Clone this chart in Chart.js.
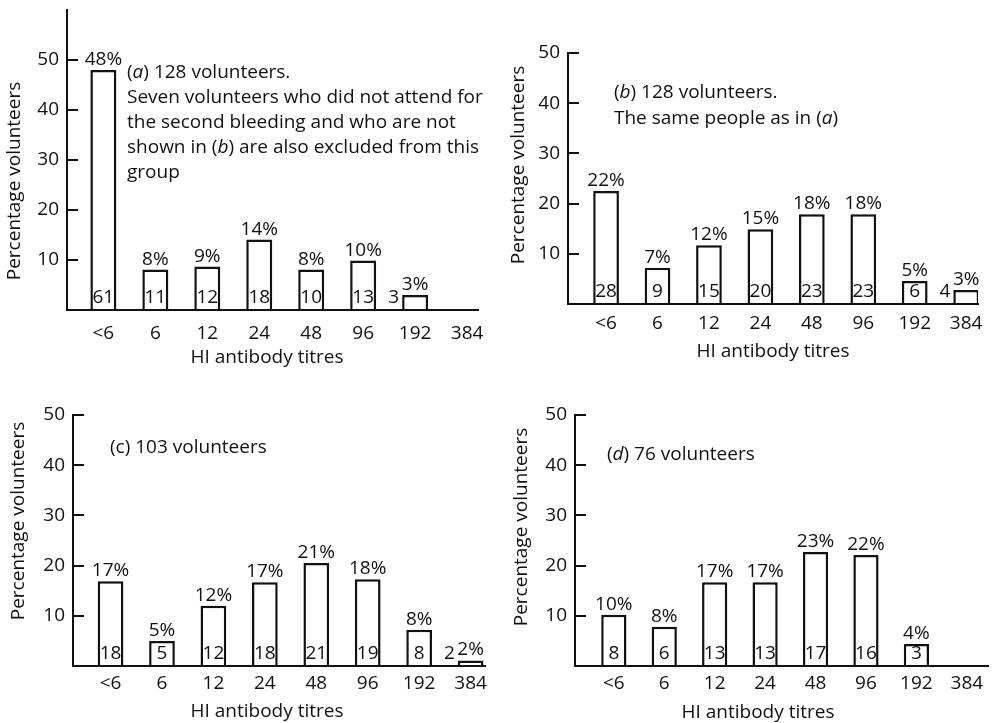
<!DOCTYPE html>
<html>
<head>
<meta charset="utf-8">
<script src="https://cdn.jsdelivr.net/npm/chart.js@4.4.0/dist/chart.umd.min.js"></script>
<style>
  html, body { margin: 0; padding: 0; background: #fff; overflow: hidden; width: 995px; height: 723px; }
  canvas { position: absolute; }
</style>
</head>
<body>
<canvas id="chartA"></canvas>
<canvas id="chartB"></canvas>
<canvas id="chartC"></canvas>
<canvas id="chartD"></canvas>
<script>
const titres = ['<6', '6', '12', '24', '48', '96', '192', '384'];

// bar heights (percentage of volunteers)
const pctA = [48, 8.1, 8.7, 14.1, 8.1, 9.9, 3.0, null];
const pctB = [22.5, 7.2, 11.7, 14.9, 17.9, 17.9, 4.6, 2.8];
const pctC = [16.9, 5.0, 12.0, 16.7, 20.5, 17.3, 7.2, 1.1];
const pctD = [10.2, 7.8, 16.7, 16.7, 22.7, 22.1, 4.4, null];

// percentages printed above the bars
const printedA = [48, 8, 9, 14, 8, 10, 3, null];
const printedB = [22, 7, 12, 15, 18, 18, 5, 3];
const printedC = [17, 5, 12, 17, 21, 18, 8, 2];
const printedD = [10, 8, 17, 17, 23, 22, 4, null];

// number of volunteers printed at the foot of each bar
const countA = [61, 11, 12, 18, 10, 13, 3, null];
const countB = [28, 9, 15, 20, 23, 23, 6, 4];
const countC = [18, 5, 12, 18, 21, 19, 8, 2];
const countD = [8, 6, 13, 13, 17, 16, 3, null];

const notesA = [
  '(*a*) 128 volunteers.',
  'Seven volunteers who did not attend for',
  'the second bleeding and who are not',
  'shown in (*b*) are also excluded from this',
  'group'
];
const notesB = ['(*b*) 128 volunteers.', 'The same people as in (*a*)'];
const notesC = ['(c) 103 volunteers'];
const notesD = ['(*d*) 76 volunteers'];

const ink = '#111';
const family = '"Open Sans", "DejaVu Sans", sans-serif';
const fontSize = 19;
const Y_WIDTH = 75, X_HEIGHT = 57, PAD_RIGHT = 16;

// box = [left, top, width, height] of each canvas on the page
const panels = [
  { id: 'chartA', pct: pctA, printed: printedA, count: countA, notes: notesA,
    box: [-8, 0, 502, 367], padTop: 10, yMax: 60, xMin: -0.70, xMax: 7.21, xPad: 12,
    yTitle: [15, 181], xTitle: [267, 358], noteAt: [127, 73], noteStep: 25 },
  { id: 'chartB', pct: pctB, printed: printedB, count: countB, notes: notesB,
    box: [493, 39, 501, 322], padTop: 14, yMax: 50, xMin: -0.74, xMax: 7.23, xPad: 8,
    yTitle: [519, 165], xTitle: [773, 352], noteAt: [614, 93], noteStep: 26 },
  { id: 'chartC', pct: pctC, printed: printedC, count: countC, notes: notesC,
    box: [-2, 401, 503, 322], padTop: 14, yMax: 50, xMin: -0.73, xMax: 7.28, xPad: 6,
    yTitle: [19, 521], xTitle: [267, 712], noteAt: [110, 448], noteStep: 25 },
  { id: 'chartD', pct: pctD, printed: printedD, count: countD, notes: notesD,
    box: [500, 401, 504, 322], padTop: 14, yMax: 50, xMin: -0.77, xMax: 7.42, xPad: 6,
    yTitle: [522, 527], xTitle: [758, 713], noteAt: [607, 455], noteStep: 25 }
];

// draws a line where parts wrapped in *...* are italic
function richText(ctx, text, x, y) {
  text.split('*').forEach((part, k) => {
    ctx.font = (k % 2 ? 'italic ' : '') + fontSize + 'px ' + family;
    ctx.fillText(part, x, y);
    x += ctx.measureText(part).width;
  });
}

const panelText = {
  id: 'panelText',
  afterDraw(chart, args, opts) {
    const p = opts.panel;
    const { ctx, chartArea, scales: { x, y } } = chart;
    const ox = p.box[0], oy = p.box[1];
    ctx.save();

    // tick marks point into the plot
    ctx.strokeStyle = ink;
    ctx.lineWidth = 2;
    y.ticks.forEach(t => {
      if (t.value <= 0) return;
      const py = Math.round(y.getPixelForValue(t.value));
      ctx.beginPath();
      ctx.moveTo(chartArea.left, py);
      ctx.lineTo(chartArea.left + 11, py);
      ctx.stroke();
    });

    ctx.fillStyle = ink;
    ctx.font = fontSize + 'px ' + family;
    ctx.textBaseline = 'alphabetic';
    chart.getDatasetMeta(0).data.forEach((bar, i) => {
      if (p.pct[i] == null) return;
      const b = bar.getProps(['x', 'y', 'base', 'width'], true);
      ctx.textAlign = 'center';
      if (p.printed[i] != null) ctx.fillText(p.printed[i] + '%', b.x, b.y - 5);
      if (p.count[i] == null) return;
      if (p.pct[i] < 3.5) {
        ctx.textAlign = 'right';
        ctx.fillText(String(p.count[i]), b.x - b.width / 2 - 3, b.base - 7);
      } else {
        ctx.fillText(String(p.count[i]), b.x, b.base - 7);
      }
    });

    // axis titles
    ctx.textAlign = 'center';
    ctx.textBaseline = 'middle';
    ctx.fillText('HI antibody titres', p.xTitle[0] - ox, p.xTitle[1] - oy);
    ctx.save();
    ctx.translate(p.yTitle[0] - ox, p.yTitle[1] - oy);
    ctx.rotate(-Math.PI / 2);
    ctx.fillText('Percentage volunteers', 0, 0);
    ctx.restore();

    // panel note
    ctx.textAlign = 'left';
    p.notes.forEach((line, k) => {
      richText(ctx, line, p.noteAt[0] - ox, p.noteAt[1] - oy + k * p.noteStep);
    });
    ctx.restore();
  }
};

panels.forEach(p => {
  const canvas = document.getElementById(p.id);
  canvas.width = p.box[2];
  canvas.height = p.box[3];
  canvas.style.left = p.box[0] + 'px';
  canvas.style.top = p.box[1] + 'px';

  new Chart(canvas, {
    type: 'bar',
    data: {
      datasets: [{
        data: p.pct.map((v, i) => ({ x: i, y: v })),
        backgroundColor: '#fff',
        borderColor: ink,
        borderWidth: 2.5,
        borderSkipped: 'start',
        categoryPercentage: 1,
        barPercentage: 0.5
      }]
    },
    options: {
      responsive: false,
      animation: false,
      events: [],
      layout: { padding: { left: 0, top: p.padTop, right: PAD_RIGHT, bottom: 0 } },
      plugins: {
        legend: { display: false },
        tooltip: { enabled: false },
        panelText: { panel: p }
      },
      scales: {
        x: {
          type: 'linear',
          offset: false,
          min: p.xMin,
          max: p.xMax,
          afterBuildTicks: s => { s.ticks = titres.map((t, i) => ({ value: i })); },
          afterFit: s => { s.height = X_HEIGHT; s.paddingLeft = 0; s.paddingRight = 0; },
          grid: { display: false, drawTicks: false },
          border: { display: true, color: ink, width: 2, z: 1 },
          ticks: {
            autoSkip: false,
            maxRotation: 0,
            padding: p.xPad,
            color: ink,
            font: { family: family, size: fontSize },
            callback: v => titres[v]
          }
        },
        y: {
          min: 0,
          max: p.yMax,
          afterFit: s => { s.width = Y_WIDTH; s.paddingTop = 0; s.paddingBottom = 0; },
          grid: { display: false, drawTicks: false },
          border: { display: true, color: ink, width: 2, z: 1 },
          ticks: {
            stepSize: 10,
            padding: 8,
            color: ink,
            font: { family: family, size: fontSize },
            callback: v => (v === 0 || v > 50) ? null : String(v)
          }
        }
      }
    },
    plugins: [panelText]
  });
});
</script>
</body>
</html>
